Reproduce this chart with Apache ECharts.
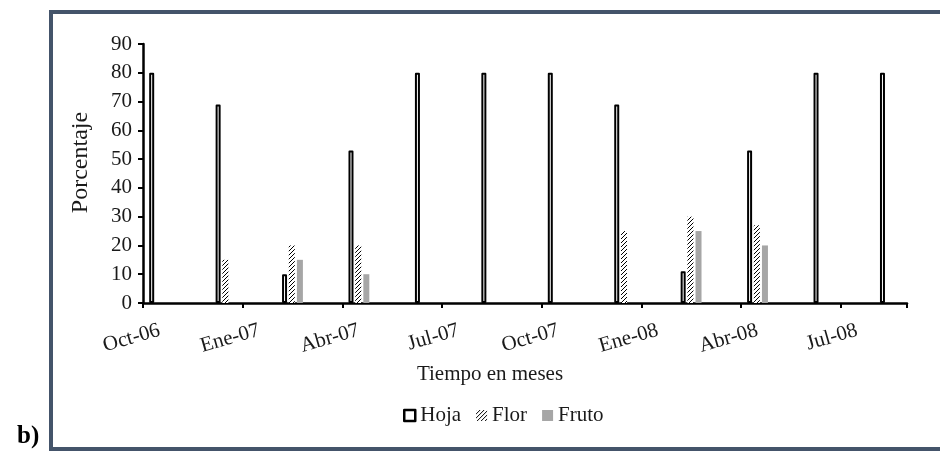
<!DOCTYPE html>
<html>
<head>
<meta charset="utf-8">
<script src="https://cdn.jsdelivr.net/npm/echarts@6/dist/echarts.min.js"></script>
<style>
  html, body { margin: 0; padding: 0; background: #ffffff; }
  #chart { width: 940px; height: 451px; }
</style>
</head>
<body>
<div id="chart"></div>
<script>
// Monthly slots of the date axis (Oct-06 .. Ago-08)
const axisMonths = ['Oct-06','Nov-06','Dic-06','Ene-07','Feb-07','Mar-07','Abr-07','May-07','Jun-07',
  'Jul-07','Ago-07','Sep-07','Oct-07','Nov-07','Dic-07','Ene-08','Feb-08','Mar-08','Abr-08','May-08',
  'Jun-08','Jul-08','Ago-08'];
// Sampling months (every two months)
const sampleMonths = ['Oct-06','Dic-06','Feb-07','Abr-07','Jun-07','Ago-07','Oct-07','Dic-07','Feb-08','Abr-08','Jun-08','Ago-08'];
const hoja  = [80, 69, 10, 53, 80, 80, 80, 69, 11, 53, 80, 80];
const flor  = [0, 15, 20, 20, 0, 0, 0, 25, 30, 27, 0, 0];
const fruto = [0, 0, 15, 10, 0, 0, 0, 0, 25, 20, 0, 0];
const yTicks = [0, 10, 20, 30, 40, 50, 60, 70, 80, 90];

function spread(values) {
  return axisMonths.map(m => {
    const i = sampleMonths.indexOf(m);
    return i >= 0 ? values[i] : null;
  });
}

// hatch pattern for "Flor"
const hatch = document.createElement('canvas');
hatch.width = 4; hatch.height = 4;
(function () {
  const c = hatch.getContext('2d');
  c.fillStyle = '#ffffff'; c.fillRect(0, 0, 4, 4);
  c.strokeStyle = '#000000'; c.lineWidth = 1;
  c.beginPath();
  c.moveTo(-1, 5); c.lineTo(5, -1);
  c.moveTo(-1, 1); c.lineTo(1, -1);
  c.moveTo(3, 5); c.lineTo(5, 3);
  c.stroke();
})();

const FONT = 'Liberation Serif';
const TXT = '#1a1a1a';

const chart = echarts.init(document.getElementById('chart'), null, { renderer: 'canvas' });
chart.setOption({
  animation: false,
  backgroundColor: '#ffffff',
  textStyle: { fontFamily: FONT },
  title: {
    text: 'b)', left: 12, top: 418,
    textStyle: { fontFamily: FONT, fontWeight: 'bold', fontSize: 25, lineHeight: 28, color: '#000' }
  },
  graphic: [{
    type: 'rect', silent: true,
    shape: { x: 51, y: 12, width: 960, height: 437 },
    style: { fill: 'none', stroke: '#44546A', lineWidth: 4 }
  }],
  legend: {
    left: 398, top: 400,
    itemWidth: 11, itemHeight: 11, itemGap: 15,
    textStyle: { fontFamily: FONT, fontSize: 21, color: TXT },
    data: [
      { name: 'Hoja', icon: 'rect', itemStyle: { borderWidth: 2.5, borderColor: '#000' } },
      { name: 'Flor', icon: 'rect' },
      { name: 'Fruto', icon: 'rect' }
    ]
  },
  grid: { left: 143, right: 33, top: 44, bottom: 148, containLabel: false },
  xAxis: {
    type: 'category',
    data: axisMonths,
    boundaryGap: true,
    name: 'Tiempo en meses',
    nameLocation: 'middle',
    nameGap: 71,
    nameTextStyle: { fontFamily: FONT, fontSize: 21, color: TXT, verticalAlign: 'middle', padding: [0, 70, 0, 0] },
    axisLine: { show: true, lineStyle: { color: '#000', width: 2.5 } },
    axisTick: { show: true, interval: 2, length: 5, lineStyle: { color: '#000', width: 2 } },
    axisLabel: {
      interval: 2, rotate: 16, margin: 27,
      fontFamily: FONT, fontSize: 21, color: TXT
    },
    splitLine: { show: false }
  },
  yAxis: {
    type: 'value',
    min: yTicks[0], max: yTicks[yTicks.length - 1], interval: 10,
    name: 'Porcentaje',
    nameLocation: 'middle',
    nameGap: 62,
    nameRotate: 90,
    nameTextStyle: { fontFamily: FONT, fontSize: 24, color: TXT, verticalAlign: 'middle', padding: [0, 0, 0, 22] },
    axisLine: { show: true, lineStyle: { color: '#000', width: 2.5 } },
    axisTick: { show: true, length: 5, lineStyle: { color: '#000', width: 2 } },
    axisLabel: { margin: 11, fontFamily: FONT, fontSize: 21, color: TXT },
    splitLine: { show: false }
  },
  series: [
    {
      name: 'Hoja', type: 'bar', barWidth: 5, barGap: '35%',
      data: spread(hoja),
      itemStyle: { color: '#ffffff', borderColor: '#000000', borderWidth: 2, borderJoin: 'round' }
    },
    {
      name: 'Flor', type: 'bar', barWidth: 6, barGap: '35%',
      data: spread(flor),
      itemStyle: { color: { image: hatch, repeat: 'repeat' } }
    },
    {
      name: 'Fruto', type: 'bar', barWidth: 6, barGap: '35%',
      data: spread(fruto),
      itemStyle: { color: '#A6A6A6' }
    }
  ]
});
</script>
</body>
</html>
